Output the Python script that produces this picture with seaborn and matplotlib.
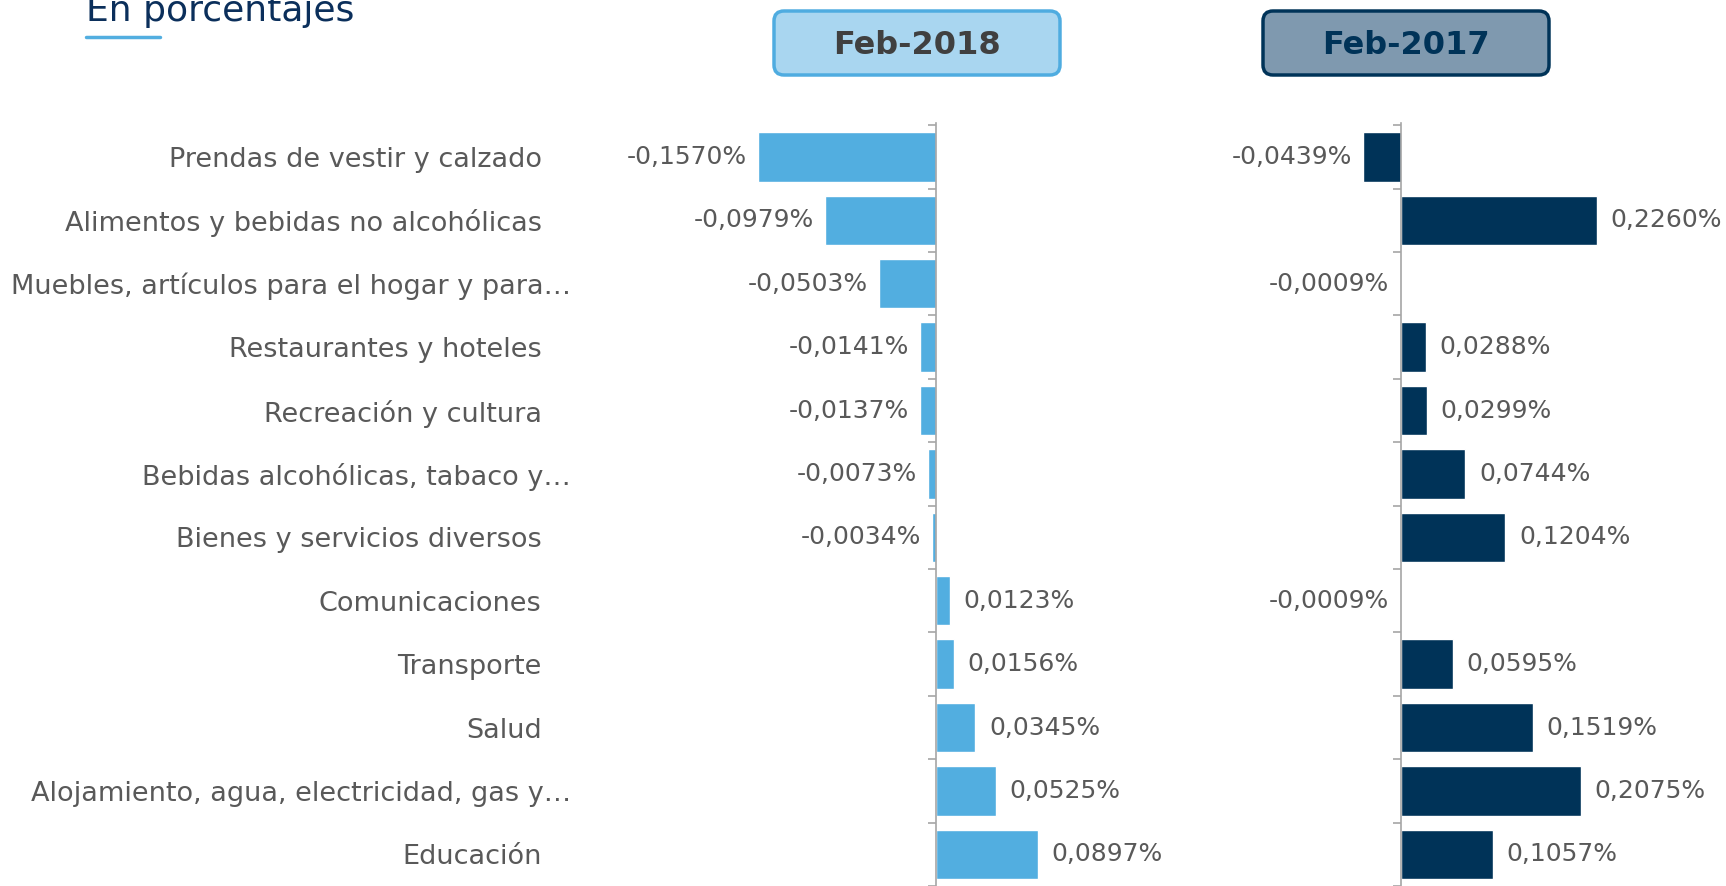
import numpy as np
import pandas as pd
import seaborn as sns
import matplotlib.pyplot as plt
from matplotlib.patches import FancyBboxPatch
from matplotlib.transforms import IdentityTransform

sns.set_style("white")
plt.rcParams['font.family'] = ['DejaVu Sans']

categorias = [
    "Prendas de vestir y calzado",
    "Alimentos y bebidas no alcohólicas",
    "Muebles, artículos para el hogar y para…",
    "Restaurantes y hoteles",
    "Recreación y cultura",
    "Bebidas alcohólicas, tabaco y…",
    "Bienes y servicios diversos",
    "Comunicaciones",
    "Transporte",
    "Salud",
    "Alojamiento, agua, electricidad, gas y…",
    "Educación",
]
feb_2018 = [-0.1570, -0.0979, -0.0503, -0.0141, -0.0137, -0.0073, -0.0034,
            0.0123, 0.0156, 0.0345, 0.0525, 0.0897]
feb_2017 = [-0.0439, 0.2260, -0.0009, 0.0288, 0.0299, 0.0744, 0.1204,
            -0.0009, 0.0595, 0.1519, 0.2075, 0.1057]

W, H = 1726, 886
GRIS = "#595959"
AZUL_CLARO = "#52AEE0"
AZUL_OSCURO = "#003358"

df = pd.DataFrame({"cat": categorias, "y2018": feb_2018, "y2017": feb_2017})


def fmt(v):
    return f"{v:.4f}".replace(".", ",") + "%"


fig = plt.figure(figsize=(W / 100, H / 100), dpi=100)

# axes placed in pixels: zero line at x=936 (left) and x=1401 (right)
def make_ax(x0, x1, zero, scale):
    ax = fig.add_axes([x0 / W, 0, (x1 - x0) / W, (H - 123) / H])
    ax.set_xlim((x0 - zero) / scale, (x1 - zero) / scale)
    return ax

ax1 = make_ax(700, 1150, 936, 1134)
ax2 = make_ax(1160, 1726, 1401, 866)

for ax, col, color in [(ax1, "y2018", AZUL_CLARO), (ax2, "y2017", AZUL_OSCURO)]:
    sns.barplot(data=df, x=col, y="cat", ax=ax, color=color, width=0.78,
                orient="h", saturation=1)
    ax.set_ylim(11.46, -0.535)
    ax.set_xlabel("")
    ax.set_ylabel("")
    ax.set_xticks([])
    for s in ["top", "right", "bottom"]:
        ax.spines[s].set_visible(False)
    ax.spines["left"].set_position(("data", 0))
    ax.spines["left"].set_color("#A6A6A6")
    ax.spines["left"].set_linewidth(1.2)
    ax.set_yticks(np.arange(-0.5, 12, 1), minor=True)
    ax.tick_params(axis="y", which="minor", length=6, color="#A6A6A6", width=1.2, left=True)
    ax.tick_params(axis="y", which="major", length=0)
    ax.patch.set_alpha(0)
    for i, v in enumerate(df[col]):
        if v < 0:
            ax.annotate(fmt(v), (v, i), xytext=(-8, 0), textcoords="offset points",
                        ha="right", va="center", fontsize=18, color=GRIS, annotation_clip=False)
        else:
            ax.annotate(fmt(v), (v, i), xytext=(10, 0), textcoords="offset points",
                        ha="left", va="center", fontsize=18, color=GRIS, annotation_clip=False)

ax2.set_yticklabels([])
ax1.set_yticks(range(len(categorias)))
ax1.set_yticklabels(categorias, fontsize=19.5, color=GRIS)
# pad measured from the zero line; labels with ellipsis stick out further
for t, c in zip(ax1.yaxis.get_major_ticks(), categorias):
    t.set_pad(263 if c.endswith("…") else 284)

# header boxes
cajas = [("Feb-2018", 774, "#A9D6F0", "#4FACE0", "#404040"),
         ("Feb-2017", 1263, "#7F99AF", "#003358", "#003358")]
for txt, x0, fc, ec, tc in cajas:
    box = FancyBboxPatch((x0, H - 75), 286, 64, boxstyle="round,pad=0,rounding_size=10",
                         transform=IdentityTransform(), facecolor=fc, edgecolor=ec, linewidth=2.5)
    fig.add_artist(box)
    fig.text((x0 + 143) / W, 1 - 45 / H, txt, ha="center", va="center",
             fontsize=23, fontweight="bold", color=tc)

fig.text(86 / W, 1 - 21 / H, "En porcentajes", fontsize=26, color="#0B2F5B",
         ha="left", va="baseline")
fig.add_artist(plt.Line2D([86 / W, 160 / W], [1 - 37 / H, 1 - 37 / H], color="#52AEE0",
                          linewidth=2.5, transform=fig.transFigure))

fig.savefig("out.png", dpi=100)
